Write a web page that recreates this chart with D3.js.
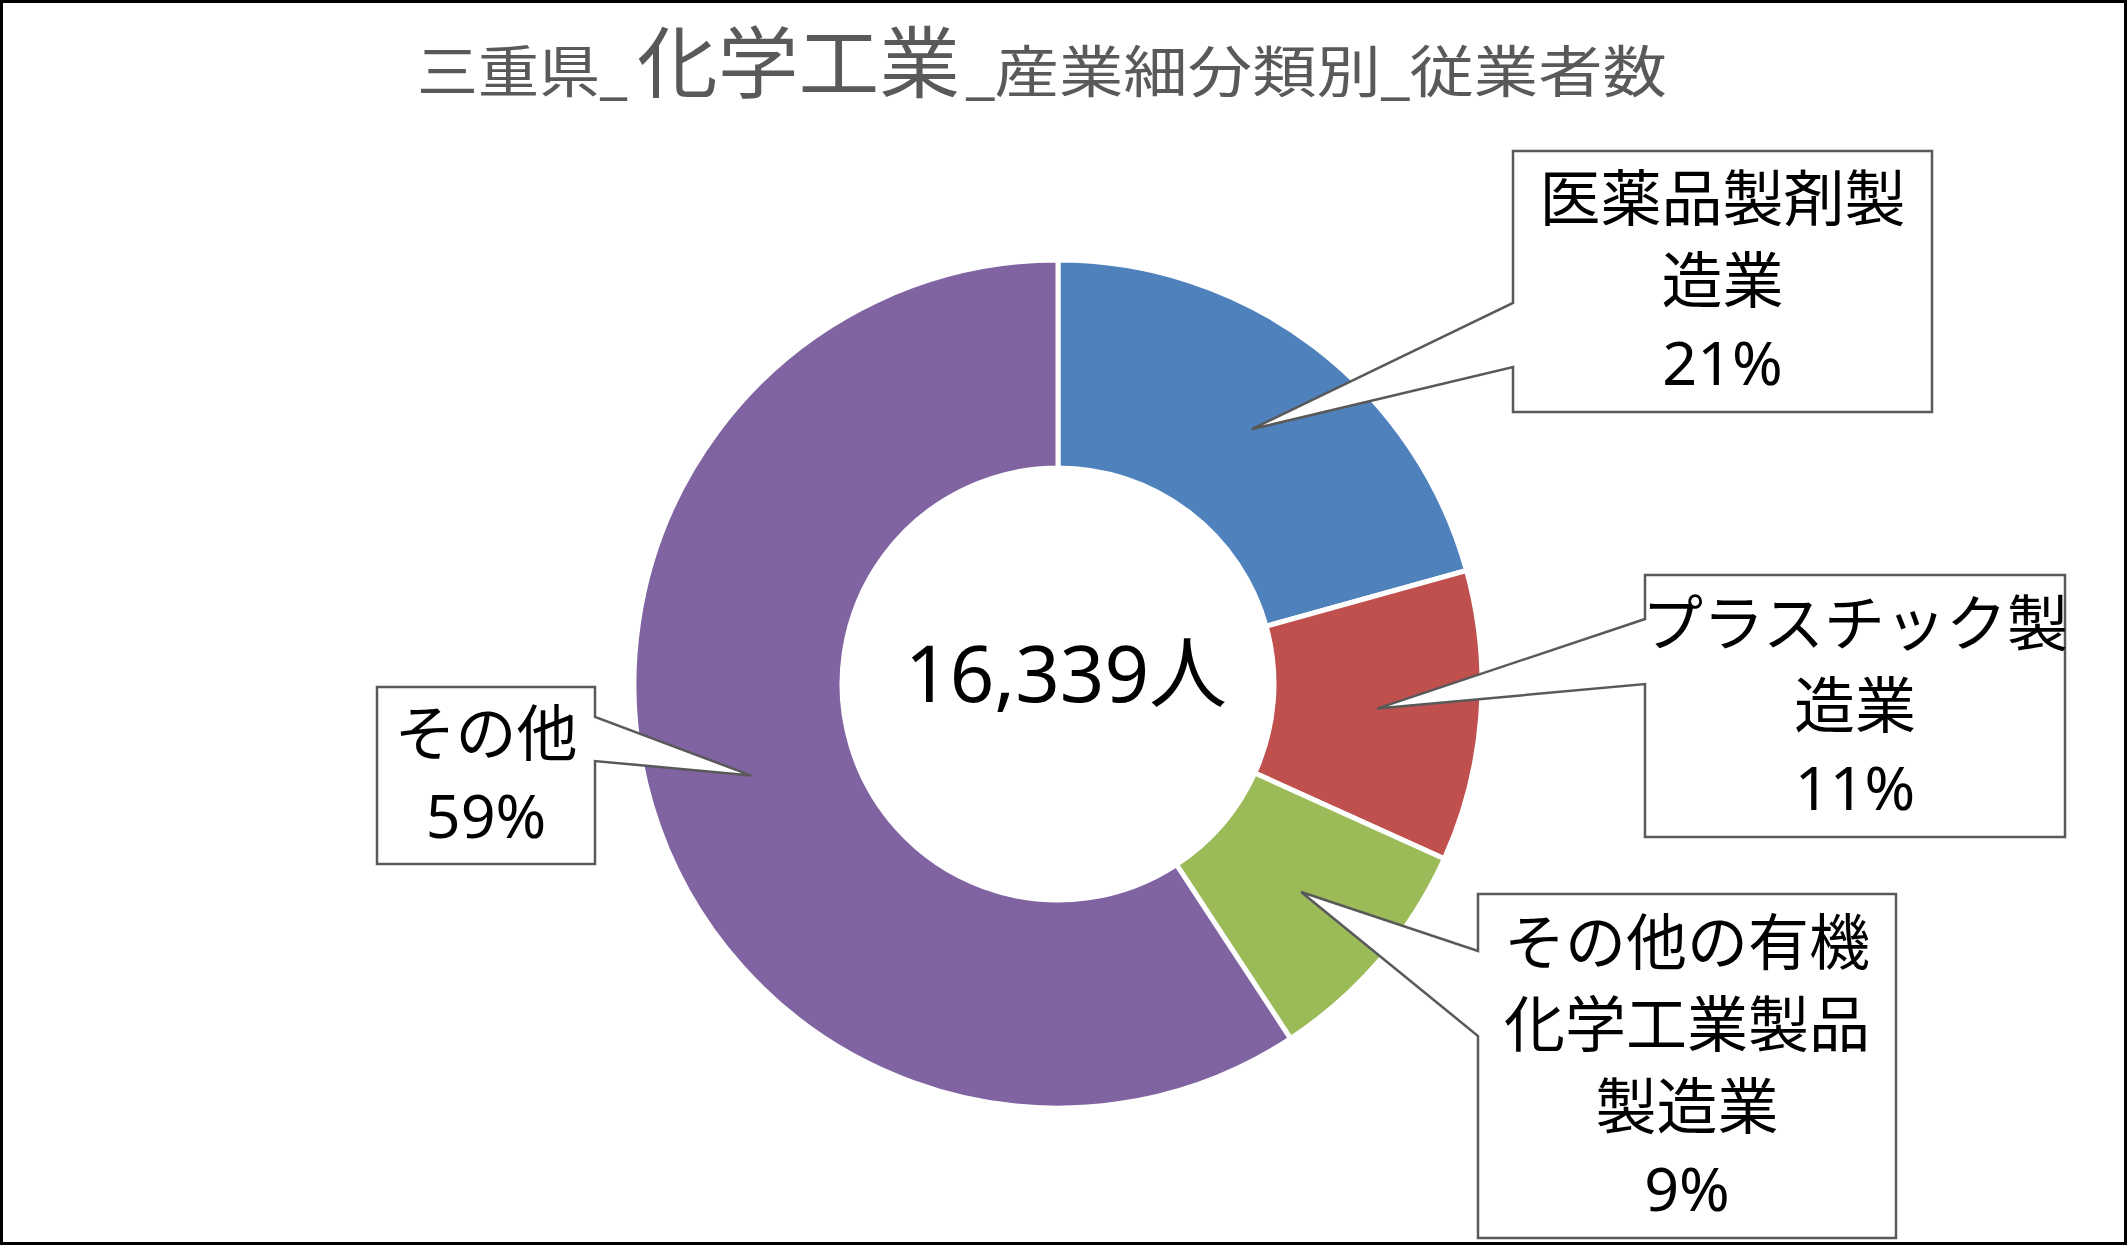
<!DOCTYPE html>
<html>
<head>
<meta charset="utf-8" />
<title>三重県_化学工業_産業細分類別_従業者数</title>
<script src="https://cdn.jsdelivr.net/npm/d3@7"></script>
<style>
body{margin:0;background:#fff;}
svg text{font-family:"Noto Sans","Noto Sans CJK JP",sans-serif;}
svg .frame{fill:none;stroke:#000;stroke-width:3px;}
svg .slice{stroke:#fff;stroke-width:5px;}
svg .box{fill:#fff;stroke:#595959;stroke-width:2.5px;stroke-linejoin:miter;}
svg .title{fill:#595959;}
</style>
</head>
<body>
<div id="chart"></div>
<script>
// data
var categories = ["医薬品製剤製造業", "プラスチック製造業", "その他の有機化学工業製品製造業", "その他"];
var values = [3380, 1810, 1470, 9679];
var colors = ["#4F81BD", "#C0504D", "#9BBB59", "#8064A2"];
var titleParts = ["三重県_", "化学工業", "_産業細分類別_従業者数"];
var unit = "人";

var width = 2127, height = 1245;
var cx = 1058, cy = 684, outerR = 424, innerR = 216;

// title pieces: left x, width, font size
var titleLayout = [
  {x: 417, w: 210, size: 56},
  {x: 637, w: 323, size: 78},
  {x: 966, w: 701, size: 56}
];

// callout boxes (same order as categories)
// a,b = where the pointer leaves the box edge, wrap = chars per line
var labelBoxes = [
  {x0: 1513, y0: 151, x1: 1932, y1: 412, side: "left", a: 303, b: 367, wrap: 6},
  {x0: 1645, y0: 575, x1: 2065, y1: 837, side: "left", a: 619, b: 684, wrap: 7},
  {x0: 1478, y0: 894, x1: 1896, y1: 1238, side: "left", a: 951, b: 1036, wrap: 6},
  {x0: 377, y0: 687, x1: 595, y1: 864, side: "right", a: 717, b: 761, wrap: 3}
];
var labelSize = 61, lineGap = 82;

var total = d3.sum(values);

var svg = d3.select("#chart")
  .append("svg")
  .attr("width", width)
  .attr("height", height);

svg.append("rect")
  .attr("class", "frame")
  .attr("x", 1.5).attr("y", 1.5)
  .attr("width", width - 3).attr("height", height - 3);

// title
svg.selectAll("text.title")
  .data(titleParts)
  .enter()
  .append("text")
  .attr("class", "title")
  .attr("x", function(d, i){ return titleLayout[i].x; })
  .attr("y", 92)
  .attr("font-size", function(d, i){ return titleLayout[i].size; })
  .attr("textLength", function(d, i){ return titleLayout[i].w; })
  .attr("lengthAdjust", "spacingAndGlyphs")
  .text(function(d){ return d; });

var pie = d3.pie().sort(null).value(function(d){ return d; });
var arcs = pie(values);

var arc = d3.arc().innerRadius(innerR).outerRadius(outerR);

var ring = svg.append("g")
  .attr("transform", "translate(" + cx + "," + cy + ")");

ring.selectAll("path")
  .data(arcs)
  .enter()
  .append("path")
  .attr("class", "slice")
  .attr("d", arc)
  .attr("fill", function(d, i){ return colors[i]; });

// total in the hole
ring.append("text")
  .attr("x", 8)
  .attr("y", 18)
  .attr("text-anchor", "middle")
  .attr("font-size", 78)
  .attr("fill", "#000")
  .text(d3.format(",")(total) + unit);

// callouts point at the middle of each ring segment
function tipPoint(d){
  var c = arc.centroid(d);
  return [cx + c[0], cy + c[1]];
}

function calloutPath(d, i){
  var b = labelBoxes[i], p = tipPoint(d);
  if(b.side == "left"){
    return "M" + b.x0 + "," + b.y0 + "H" + b.x1 + "V" + b.y1 + "H" + b.x0 +
      "V" + b.b + "L" + p[0] + "," + p[1] + "L" + b.x0 + "," + b.a + "Z";
  }else{
    return "M" + b.x0 + "," + b.y0 + "H" + b.x1 + "V" + b.a +
      "L" + p[0] + "," + p[1] + "L" + b.x1 + "," + b.b + "V" + b.y1 + "H" + b.x0 + "Z";
  }
}

function wrapName(s, n){
  var out = [];
  for(var k = 0; k < s.length; k += n){ out.push(s.slice(k, k + n)); }
  return out;
}

var labels = svg.selectAll("g.callout")
  .data(arcs)
  .enter()
  .append("g")
  .attr("class", "callout");

labels.append("path")
  .attr("class", "box")
  .attr("d", calloutPath);

labels.each(function(d, i){
  var b = labelBoxes[i];
  var lines = wrapName(categories[i], b.wrap);
  lines.push(Math.round(values[i] / total * 100) + "%");
  var mx = (b.x0 + b.x1) / 2, my = (b.y0 + b.y1) / 2;
  d3.select(this).selectAll("text")
    .data(lines)
    .enter()
    .append("text")
    .attr("x", mx)
    .attr("y", function(t, j){ return my + (j - (lines.length - 1) / 2) * lineGap + labelSize * 0.36; })
    .attr("text-anchor", "middle")
    .attr("font-size", labelSize)
    .attr("fill", "#000")
    .text(function(t){ return t; });
});
</script>
</body>
</html>
